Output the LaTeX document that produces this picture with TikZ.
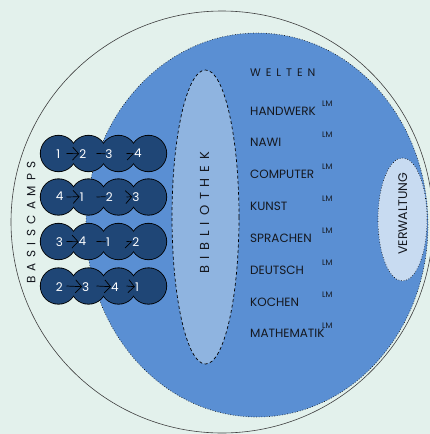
\documentclass[tikz,border=0pt]{standalone}
\usepackage{fontspec}
\setmainfont{Poppins}
\newfontfamily\widefont[LetterSpace=45]{Poppins}
\usetikzlibrary{arrows.meta}
\definecolor{bgc}{HTML}{E3F1EC}
\definecolor{weltc}{HTML}{5A8FD3}
\definecolor{bibc}{HTML}{8FB4E0}
\definecolor{verc}{HTML}{C8DBF1}
\definecolor{campc}{HTML}{1F4676}
\definecolor{ink}{HTML}{15181F}
\begin{document}
\begin{tikzpicture}[x=1pt,y=-1pt,
 camp/.style={circle,draw=black,line width=1.7pt,minimum size=35.5pt,inner sep=0pt},
 campfill/.style={fill=campc},
 num/.style={text=white,font=\fontsize{12}{12}\selectfont,inner sep=0pt},
 arr/.style={draw=black,line width=0.7pt},
 fulltip/.style={arr,-{Straight Barb[length=6pt,width=13pt]}},
 lowertip/.style={arr,-{Straight Barb[length=6pt,width=13pt,right]}},
 bare/.style={arr},
 item/.style={anchor=base west,inner sep=0pt,font=\fontsize{12}{12}\selectfont,text=ink},
 lm/.style={anchor=base west,inner sep=0pt,font=\fontsize{8}{8}\selectfont,text=ink},
 spaced/.style={inner sep=0pt,text=ink},
 ]
\useasboundingbox (0,0) rectangle (430,434);
\fill[bgc] (0,0) rectangle (430,434);
% outer circle
\draw[line width=0.6pt, black!75] (222,222) circle [radius=211pt];
% worlds ellipse
\draw[fill=weltc, dotted, line width=0.6pt] (257,225) ellipse [x radius=171pt, y radius=192pt];
% library
\draw[fill=bibc, line width=0.7pt, dash pattern=on 3pt off 2.5pt] (205.5,217) ellipse [x radius=33.5pt, y radius=147pt];
% administration
\draw[fill=verc, dotted, line width=0.6pt] (402.5,219.5) ellipse [x radius=24.5pt, y radius=61.5pt];

\node[spaced, rotate=90, font=\widefont\fontsize{12}{12}\selectfont] (basis) at (31.3,222.5) {BASISCAMPS};
\node[spaced, rotate=90, font=\widefont\fontsize{13}{13}\selectfont] (bib) at (204.5,212.5) {BIBLIOTHEK};
\node[spaced, rotate=90, font=\fontsize{12.5}{12.5}\selectfont] (verw) at (402.7,213.7) {VERWALTUNG};
\node[spaced, anchor=base west, font=\widefont\fontsize{11}{11}\selectfont] (welten) at (250,76) {WELTEN};

\foreach \t/\b [count=\i] in {HANDWERK/115, NAWI/146.7, COMPUTER/178.3, KUNST/210.7, SPRACHEN/242.3, DEUTSCH/274, KOCHEN/306, MATHEMATIK/337.7} {
  \node[item] (w\i) at (250,\b) {\t};
  \node[lm] (lm\i) at (322,\b-8.8) {LM};
}

% basecamps: outlines first, then fills, so only the outer contour stays visible
\foreach \r/\y in {1/153.5,2/197,3/241.5,4/286} {
  \foreach \k in {1,...,4} {
    \node[camp] (c\r\k) at ({28.5+30*\k},\y) {};
  }
}
\foreach \r in {1,...,4} {
  \foreach \k in {1,...,4} {
    \fill[campfill] (c\r\k.center) circle [radius=17.75pt];
  }
}
\node[num] (n11) at (58.3,153.7) {1};
\node[num] (n12) at (82.7,153.7) {2};
\node[num] (n13) at (109,153.7) {3};
\node[num] (n14) at (138,153.7) {4};
\node[num] (n21) at (59.7,196.7) {4};
\node[num] (n22) at (81.7,196.7) {1};
\node[num] (n23) at (109.3,196.7) {2};
\node[num] (n24) at (135.8,196.7) {3};
\node[num] (n31) at (59.3,241.7) {3};
\node[num] (n32) at (82.5,241.7) {4};
\node[num] (n33) at (108,241.7) {1};
\node[num] (n34) at (135.8,241.7) {2};
\node[num] (n41) at (59.3,286.7) {2};
\node[num] (n42) at (85.7,286.7) {3};
\node[num] (n43) at (115,286.7) {4};
\node[num] (n44) at (137,286.7) {1};

\draw[fulltip] ([xshift=8pt]c11.center) -- (n12.west);
\draw[bare] ([xshift=8pt]c12.center) -- (n13.west);
\draw[lowertip] ([xshift=8pt]c13.center) -- (n14.west);
\draw[fulltip] ([xshift=8pt]c21.center) -- (n22.west);
\draw[bare] ([xshift=8pt]c22.center) -- (n23.west);
\draw[fulltip] ([xshift=8pt]c23.center) -- (n24.west);
\draw[fulltip] ([xshift=8pt]c31.center) -- (n32.west);
\draw[bare] ([xshift=8pt]c32.center) -- (n33.west);
\draw[lowertip] ([xshift=8pt]c33.center) -- (n34.west);
\draw[fulltip] ([xshift=8pt]c41.center) -- (n42.west);
\draw[fulltip] ([xshift=8pt]c42.center) -- (n43.west);
\draw[fulltip] ([xshift=8pt]c43.center) -- (n44.west);
\end{tikzpicture}
\end{document}
